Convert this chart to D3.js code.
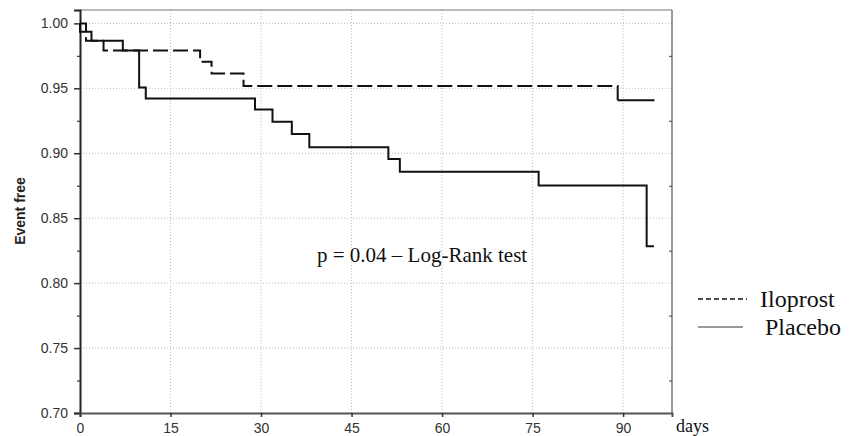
<!DOCTYPE html>
<html>
<head>
<meta charset="utf-8">
<script src="https://cdn.jsdelivr.net/npm/d3@7"></script>
<style>
  body { margin: 0; background: #fff; }
  .serif { font-family: "Liberation Serif", "Times New Roman", serif; fill: #111; }
</style>
</head>
<body>
<div id="chart"></div>
<script>
// Kaplan-Meier step values
var iloDays = [0, 1.0, 3.9, 19.9, 21.8, 27.1, 89.1, 95.2];
var iloSurv = [1.0, 0.9866, 0.9792, 0.9704, 0.9615, 0.9517, 0.9409, 0.9409];

var placDays = [0, 0, 1.9, 7.1, 9.8, 10.9, 29.0, 31.9, 35.1, 38.0, 51.1, 53.0, 76.0, 93.9, 95.1];
var placSurv = [1.0, 0.9935, 0.9866, 0.9792, 0.9507, 0.9422, 0.9336, 0.9243, 0.9149, 0.9047, 0.8955, 0.8858, 0.8752, 0.8284, 0.8284];

var xTicks = [0, 15, 30, 45, 60, 75, 90];
var yTicks = [0.70, 0.75, 0.80, 0.85, 0.90, 0.95, 1.00];
var yMinor = [0.725, 0.775, 0.825, 0.875, 0.925, 0.975];

var W = 858, H = 436;
var plot = {left: 80, right: 672, top: 10, bottom: 413};

var svg = d3.select("#chart").append("svg")
    .attr("width", W)
    .attr("height", H);

var x = d3.scaleLinear().domain([0, 98.1]).range([plot.left, plot.right]);
var y = d3.scaleLinear().domain([0.70, 1.0103]).range([plot.bottom, plot.top]);

// dotted grid
svg.append("g")
  .selectAll("line")
  .data(xTicks.slice(1))
  .enter().append("line")
    .attr("x1", function(d) { return x(d); })
    .attr("x2", function(d) { return x(d); })
    .attr("y1", plot.top)
    .attr("y2", plot.bottom)
    .attr("stroke", "#bbb")
    .attr("stroke-dasharray", "1,2");

svg.append("g")
  .selectAll("line")
  .data(yTicks.slice(1))
  .enter().append("line")
    .attr("x1", plot.left)
    .attr("x2", plot.right)
    .attr("y1", function(d) { return y(d); })
    .attr("y2", function(d) { return y(d); })
    .attr("stroke", "#bbb")
    .attr("stroke-dasharray", "1,2");

// frame top / right
svg.append("line")
    .attr("x1", plot.left).attr("x2", plot.right)
    .attr("y1", plot.top).attr("y2", plot.top)
    .attr("stroke", "#777").attr("stroke-width", 1);
svg.append("line")
    .attr("x1", plot.right).attr("x2", plot.right)
    .attr("y1", plot.top).attr("y2", plot.bottom)
    .attr("stroke", "#555").attr("stroke-width", 1.2);

// right axis: minor ticks inward
svg.append("g")
    .attr("transform", "translate(" + plot.right + ",0)")
    .call(d3.axisLeft(y).tickValues(yMinor).tickSize(3).tickFormat(""))
    .call(function(g) { g.select(".domain").remove(); })
    .selectAll("line").attr("stroke", "#444");

// left axis
var yAxis = svg.append("g")
    .attr("transform", "translate(" + plot.left + ",0)")
    .call(d3.axisLeft(y).tickValues(yTicks).tickSize(6).tickPadding(6).tickFormat(d3.format(".2f")));
yAxis.select(".domain").attr("stroke", "#222").attr("stroke-width", 2);
yAxis.selectAll(".tick line").attr("stroke", "#333").attr("stroke-width", 1.5);
yAxis.selectAll(".tick text")
    .style("font-family", "Liberation Sans, Arial, sans-serif")
    .style("font-size", "14px")
    .style("fill", "#333");

svg.append("g")
    .attr("transform", "translate(" + plot.left + ",0)")
    .call(d3.axisLeft(y).tickValues(yMinor).tickSize(3).tickFormat(""))
    .call(function(g) { g.select(".domain").remove(); })
    .selectAll("line").attr("stroke", "#333").attr("stroke-width", 1.2);

// bottom axis
var xAxis = svg.append("g")
    .attr("transform", "translate(0," + plot.bottom + ")")
    .call(d3.axisBottom(x).tickValues(xTicks).tickSize(4).tickPadding(6).tickFormat(d3.format("d")));
xAxis.select(".domain").attr("stroke", "#555").attr("stroke-width", 2);
xAxis.selectAll(".tick line").attr("stroke", "#333").attr("stroke-width", 1.5);
xAxis.selectAll(".tick text")
    .style("font-family", "Liberation Sans, Arial, sans-serif")
    .style("font-size", "14px")
    .style("fill", "#333");

// axis titles
svg.append("text")
    .attr("transform", "translate(25,211) rotate(-90)")
    .attr("text-anchor", "middle")
    .style("font-family", "Liberation Sans, Arial, sans-serif")
    .style("font-size", "14px")
    .style("font-weight", "bold")
    .style("fill", "#222")
    .text("Event free");

svg.append("text")
    .attr("class", "serif")
    .attr("x", 676)
    .attr("y", 432)
    .style("font-size", "18px")
    .text("days");

// curves
var line = d3.line()
    .x(function(d) { return x(d[0]); })
    .y(function(d) { return y(d[1]); })
    .curve(d3.curveStepAfter);

var plac = d3.zip(placDays, placSurv);
var ilo = d3.zip(iloDays, iloSurv);

svg.append("path")
    .datum(plac)
    .attr("d", line)
    .attr("fill", "none")
    .attr("stroke", "#111")
    .attr("stroke-width", 2);

svg.append("path")
    .datum(ilo.slice(0, ilo.length - 1))
    .attr("d", line)
    .attr("fill", "none")
    .attr("stroke", "#111")
    .attr("stroke-width", 2)
    .attr("stroke-dasharray", "15,5");

// last segment of the Iloprost curve is drawn plain
svg.append("path")
    .datum(ilo.slice(ilo.length - 2))
    .attr("d", line)
    .attr("fill", "none")
    .attr("stroke", "#111")
    .attr("stroke-width", 2);

// p-value
svg.append("text")
    .attr("class", "serif")
    .attr("x", 317)
    .attr("y", 262)
    .style("font-size", "21px")
    .text("p = 0.04 \u2013 Log-Rank test");

// legend
svg.append("line")
    .attr("x1", 698).attr("x2", 747)
    .attr("y1", 299).attr("y2", 299)
    .attr("stroke", "#111").attr("stroke-width", 1.5)
    .attr("stroke-dasharray", "5,3");
svg.append("text")
    .attr("class", "serif")
    .attr("x", 760).attr("y", 307)
    .style("font-size", "24px")
    .text("Iloprost");

svg.append("line")
    .attr("x1", 698).attr("x2", 743)
    .attr("y1", 327).attr("y2", 327)
    .attr("stroke", "#333").attr("stroke-width", 1);
svg.append("text")
    .attr("class", "serif")
    .attr("x", 765).attr("y", 335)
    .style("font-size", "24px")
    .text("Placebo");
</script>
</body>
</html>
